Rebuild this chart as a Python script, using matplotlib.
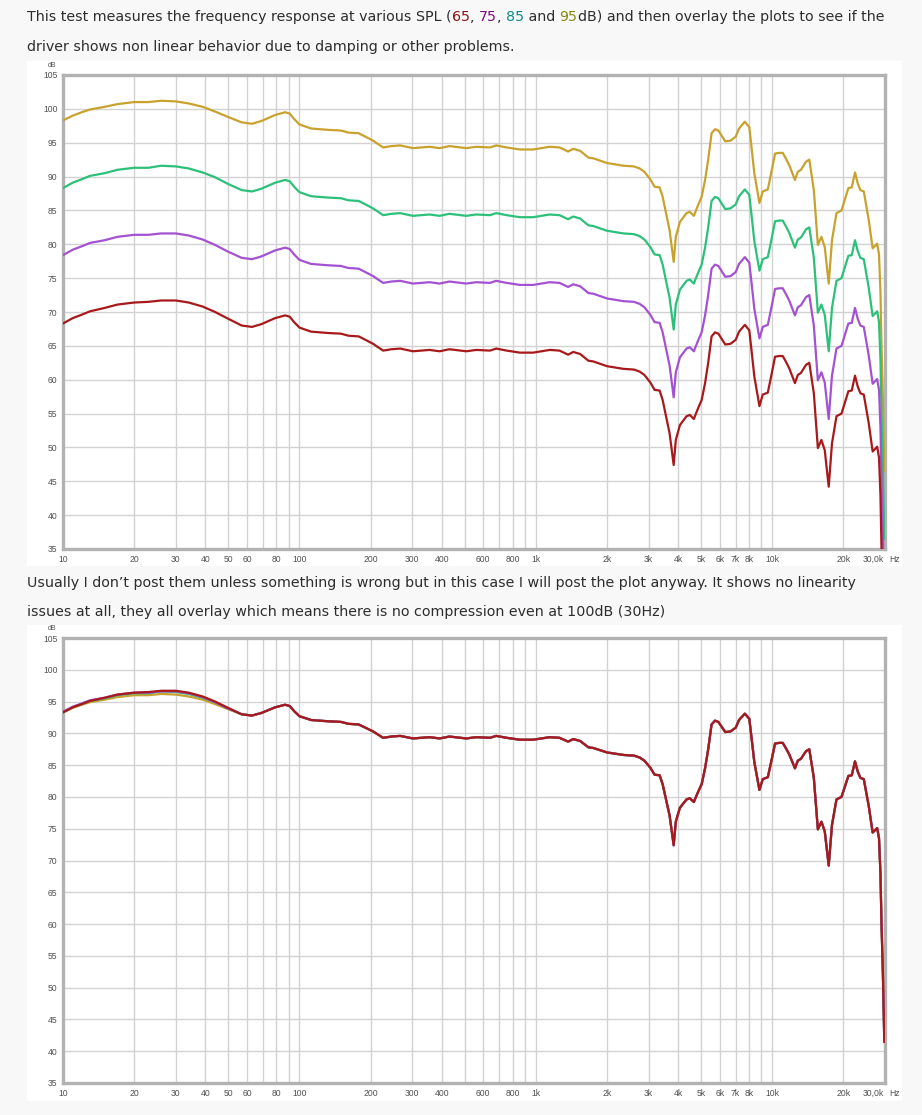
import matplotlib
matplotlib.use("Agg")
import matplotlib.pyplot as plt
from matplotlib.patches import Rectangle
from matplotlib.ticker import FixedLocator, NullFormatter

# frequency response
freq_hz = [10, 11, 12, 13, 15, 17, 20, 23, 26, 30,
           34, 39, 44, 50, 57, 63, 69, 79, 87, 91,
           95, 100, 112, 132, 150, 161, 178, 190, 205, 226,
           245, 267, 302, 355, 392, 431, 508, 560, 640, 680,
           753, 856, 975, 1145, 1260, 1370, 1440, 1540, 1670, 1750,
           2000, 2350, 2600, 2750, 2880, 3050, 3180, 3340, 3440, 3680,
           3830, 3910, 4070, 4340, 4480, 4660, 4860, 5030, 5200, 5360,
           5540, 5730, 5920, 6330, 6660, 7010, 7240, 7660, 8000, 8230,
           8400, 8830, 9120, 9580, 9900, 10280, 10700, 11080, 11450, 11800,
           12480, 12830, 13230, 13900, 14350, 15000, 15600, 16150, 16680, 17340,
           17900, 18700, 19640, 21000, 21700, 22400, 23000, 23600, 24400, 25600,
           26600, 27800, 28300, 28700, 29000, 29400, 29800]

spl_95 = [98.3, 99.0, 99.5, 99.9, 100.3, 100.7, 101.0, 101.0, 101.2, 101.1,
          100.8, 100.3, 99.6, 98.8, 98.0, 97.8, 98.2, 99.1, 99.5, 99.3,
          98.5, 97.7, 97.1, 96.9, 96.8, 96.5, 96.4, 95.9, 95.3, 94.3,
          94.5, 94.6, 94.2, 94.4, 94.2, 94.5, 94.2, 94.4, 94.3, 94.6,
          94.3, 94.0, 94.0, 94.4, 94.3, 93.7, 94.1, 93.8, 92.8, 92.7,
          92.0, 91.6, 91.5, 91.2, 90.7, 89.6, 88.5, 88.4, 87.0, 82.1,
          77.4, 81.1, 83.3, 84.6, 84.8, 84.2, 85.8, 87.0, 89.5, 92.5,
          96.4, 97.0, 96.8, 95.2, 95.3, 95.9, 97.1, 98.1, 97.3, 93.4,
          90.5, 86.1, 87.8, 88.1, 90.5, 93.4, 93.5, 93.5, 92.6, 91.7,
          89.5, 90.7, 91.0, 92.2, 92.5, 88.0, 79.9, 81.1, 79.6, 74.2,
          80.6, 84.6, 85.0, 88.3, 88.4, 90.6, 89.0, 88.0, 87.8, 83.6,
          79.4, 80.1, 78.5, 73.0, 65.0, 57.0, 46.5]

spl_85 = [88.3, 89.1, 89.6, 90.1, 90.5, 91.0, 91.3, 91.3, 91.6, 91.5,
          91.2, 90.6, 89.9, 88.9, 88.0, 87.8, 88.2, 89.1, 89.5, 89.3,
          88.5, 87.7, 87.1, 86.9, 86.8, 86.5, 86.4, 85.9, 85.3, 84.3,
          84.5, 84.6, 84.2, 84.4, 84.2, 84.5, 84.2, 84.4, 84.3, 84.6,
          84.3, 84.0, 84.0, 84.4, 84.3, 83.7, 84.1, 83.8, 82.8, 82.7,
          82.0, 81.6, 81.5, 81.2, 80.7, 79.6, 78.5, 78.4, 77.0, 72.1,
          67.4, 71.1, 73.3, 74.6, 74.8, 74.2, 75.8, 77.0, 79.5, 82.5,
          86.4, 87.0, 86.8, 85.2, 85.3, 85.9, 87.1, 88.1, 87.3, 83.4,
          80.5, 76.1, 77.8, 78.1, 80.5, 83.4, 83.5, 83.5, 82.6, 81.7,
          79.5, 80.7, 81.0, 82.2, 82.5, 78.0, 69.9, 71.1, 69.6, 64.2,
          70.6, 74.6, 75.0, 78.3, 78.4, 80.6, 79.0, 78.0, 77.8, 73.6,
          69.4, 70.1, 68.5, 63.0, 55.0, 47.0, 36.5]

spl_75 = [78.4, 79.2, 79.7, 80.2, 80.6, 81.1, 81.4, 81.4, 81.6, 81.6,
          81.3, 80.7, 79.9, 78.9, 78.0, 77.8, 78.2, 79.1, 79.5, 79.3,
          78.5, 77.7, 77.1, 76.9, 76.8, 76.5, 76.4, 75.9, 75.3, 74.3,
          74.5, 74.6, 74.2, 74.4, 74.2, 74.5, 74.2, 74.4, 74.3, 74.6,
          74.3, 74.0, 74.0, 74.4, 74.3, 73.7, 74.1, 73.8, 72.8, 72.7,
          72.0, 71.6, 71.5, 71.2, 70.7, 69.6, 68.5, 68.4, 67.0, 62.1,
          57.4, 61.1, 63.3, 64.6, 64.8, 64.2, 65.8, 67.0, 69.5, 72.5,
          76.4, 77.0, 76.8, 75.2, 75.3, 75.9, 77.1, 78.1, 77.3, 73.4,
          70.5, 66.1, 67.8, 68.1, 70.5, 73.4, 73.5, 73.5, 72.6, 71.7,
          69.5, 70.7, 71.0, 72.2, 72.5, 68.0, 59.9, 61.1, 59.6, 54.2,
          60.6, 64.6, 65.0, 68.3, 68.4, 70.6, 69.0, 68.0, 67.8, 63.6,
          59.4, 60.1, 58.5, 53.0, 45.0, 37.0, 26.5]

spl_65 = [68.3, 69.1, 69.6, 70.1, 70.6, 71.1, 71.4, 71.5, 71.7, 71.7,
          71.4, 70.8, 70.0, 69.0, 68.0, 67.8, 68.2, 69.1, 69.5, 69.3,
          68.5, 67.7, 67.1, 66.9, 66.8, 66.5, 66.4, 65.9, 65.3, 64.3,
          64.5, 64.6, 64.2, 64.4, 64.2, 64.5, 64.2, 64.4, 64.3, 64.6,
          64.3, 64.0, 64.0, 64.4, 64.3, 63.7, 64.1, 63.8, 62.8, 62.7,
          62.0, 61.6, 61.5, 61.2, 60.7, 59.6, 58.5, 58.4, 57.0, 52.1,
          47.4, 51.1, 53.3, 54.6, 54.8, 54.2, 55.8, 57.0, 59.5, 62.5,
          66.4, 67.0, 66.8, 65.2, 65.3, 65.9, 67.1, 68.1, 67.3, 63.4,
          60.5, 56.1, 57.8, 58.1, 60.5, 63.4, 63.5, 63.5, 62.6, 61.7,
          59.5, 60.7, 61.0, 62.2, 62.5, 58.0, 49.9, 51.1, 49.6, 44.2,
          50.6, 54.6, 55.0, 58.3, 58.4, 60.6, 59.0, 58.0, 57.8, 53.6,
          49.4, 50.1, 48.5, 43.0, 35.0, 27.0, 16.5]

# REW offsets used to overlay the four sweeps in the second plot
overlay_offset_db = [-5, 5, 15, 25]
series = [spl_95, spl_85, spl_75, spl_65]
line_colors = ["#c9a22e", "#2cc079", "#a452d2", "#a8191b"]

tick_freqs = [10, 20, 30, 40, 50, 60, 80, 100, 200, 300, 400, 600, 800,
              1000, 2000, 3000, 4000, 5000, 6000, 7000, 8000, 10000, 20000]
tick_labels = ["10", "20", "30", "40", "50", "60", "80", "100", "200", "300",
               "400", "600", "800", "1k", "2k", "3k", "4k", "5k", "6k", "7k",
               "8k", "10k", "20k"]
db_ticks = list(range(35, 106, 5))

grid_freqs = []
for dec in [10, 100, 1000, 10000]:
    for m in range(1, 10):
        if dec * m <= 30000:
            grid_freqs.append(dec * m)

W, H = 922, 1115
page = "#f8f8f8"
txtcol = "#2d2d2d"
fs = 10.25

fig = plt.figure(figsize=(W / 100, H / 100), dpi=100, facecolor=page)
renderer = fig.canvas.get_renderer()


def line_of_text(y_px, pieces):
    x = 27.0
    for txt, col in pieces:
        t = fig.text(x / W, 1 - y_px / H, txt, color=col, fontsize=fs,
                     va="center", ha="left", family="DejaVu Sans")
        bb = t.get_window_extent(renderer)
        x = bb.x1


line_of_text(17, [("This test measures the frequency response at various SPL (", txtcol),
                  ("65", "#8b1414"), (", ", txtcol), ("75", "#7d0f7d"), (", ", txtcol),
                  ("85", "#0f8a8a"), (" and ", txtcol), ("95", "#8a8a0f"),
                  ("dB) and then overlay the plots to see if the", txtcol)])
line_of_text(47, [("driver shows non linear behavior due to damping or other problems.", txtcol)])
line_of_text(583, [("Usually I don\u2019t post them unless something is wrong but in this case I will post the plot anyway. It shows no linearity", txtcol)])
line_of_text(612, [("issues at all, they all overlay which means there is no compression even at 100dB (30Hz)", txtcol)])

# white picture backgrounds, behind the axes
for top, bot in [(61, 566), (625, 1101)]:
    fig.patches.append(Rectangle((27 / W, 1 - bot / H), 875 / W, (bot - top) / H,
                                 transform=fig.transFigure, facecolor="white",
                                 edgecolor="none", zorder=-10))


def rew_axes(top_px, bot_px):
    ax = fig.add_axes([63 / W, 1 - bot_px / H, 822 / W, (bot_px - top_px) / H])
    ax.set_zorder(5)
    ax.set_xscale("log")
    ax.set_xlim(10, 30000)
    ax.set_ylim(35, 105)
    ax.set_facecolor("white")
    for f in grid_freqs:
        ax.axvline(f, color="#d2d2d2", lw=1.0, zorder=1)
    for d in db_ticks:
        ax.axhline(d, color="#d2d2d2", lw=1.0, zorder=1)
    ax.xaxis.set_major_locator(FixedLocator(tick_freqs))
    ax.set_xticklabels(tick_labels)
    ax.xaxis.set_minor_formatter(NullFormatter())
    ax.xaxis.set_minor_locator(FixedLocator([]))
    ax.set_yticks(db_ticks)
    ax.tick_params(length=0, labelsize=6.2, colors="#505050", pad=4)
    for lab in ax.get_xticklabels() + ax.get_yticklabels():
        lab.set_family("Liberation Sans")
    for s in ax.spines.values():
        s.set_color("#b2b2b2")
        s.set_linewidth(2.4)
    ax.annotate("30,0k", xy=(30000, 35), xytext=(-1, -4), textcoords="offset points",
                ha="right", va="top", fontsize=6.2, color="#505050", family="Liberation Sans")
    ax.annotate("Hz", xy=(30000, 35), xytext=(3, -4), textcoords="offset points",
                ha="left", va="top", fontsize=6.2, color="#505050", family="Liberation Sans")
    ax.annotate("dB", xy=(10, 105), xytext=(-8, 4), textcoords="offset points",
                ha="center", va="bottom", fontsize=5, color="#505050", family="Liberation Sans")
    return ax


ax1 = rew_axes(75, 549)
for spl, col in zip(series, line_colors):
    ax1.plot(freq_hz, spl, color=col, lw=1.6, zorder=3)

ax2 = rew_axes(638, 1083)
for spl, off, col in zip(series, overlay_offset_db, line_colors):
    ax2.plot(freq_hz, [v + off for v in spl], color=col, lw=1.6, zorder=3)

fig.savefig("out.png", dpi=100, facecolor=page)
